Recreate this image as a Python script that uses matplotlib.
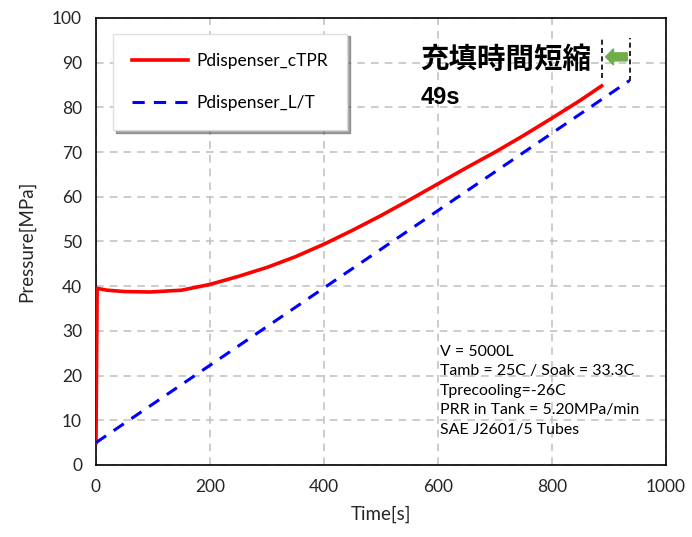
import matplotlib.pyplot as plt
from matplotlib.patches import FancyArrow

plt.rcParams['font.family'] = ['Lato', 'DejaVu Sans']

# data
t_ctpr = [0, 2, 20, 50, 95, 150, 200, 250, 300, 350, 400, 450, 500, 550, 600, 650, 703, 750, 800, 850, 887]
p_ctpr = [5, 39.5, 39.1, 38.8, 38.7, 39.1, 40.4, 42.2, 44.2, 46.6, 49.4, 52.5, 55.8, 59.3, 62.9, 66.5, 70.2, 73.7, 77.6, 81.6, 84.8]
t_lt = [0, 936]
p_lt = [5, 86]

notes = ["V = 5000L", "Tamb = 25C / Soak = 33.3C", "Tprecooling=-26C",
         "PRR in Tank = 5.20MPa/min", "SAE J2601/5 Tubes"]

fig = plt.figure(figsize=(6.92, 5.37), dpi=100)
ax = fig.add_axes([0.1387, 0.1341, 0.8237, 0.8324])

ax.plot(t_ctpr, p_ctpr, color='#ff0000', lw=2.6, label='Pdispenser_cTPR', zorder=3)
ax.plot(t_lt, p_lt, color='#0000ff', lw=2.2, ls=(0, (4, 3)), label='Pdispenser_L/T', zorder=3)

ax.set_xlim(0, 1000)
ax.set_ylim(0, 100)
ax.set_xticks(range(0, 1001, 200))
ax.set_yticks(range(0, 101, 10))
ax.grid(True, color='#bfbfbf', ls=(0, (5, 4)), lw=1.1)
ax.tick_params(labelsize=12.5, length=0, pad=10, colors='#262626')
for s in ax.spines.values():
    s.set_color('black')
    s.set_linewidth(1.2)

ax.set_xlabel('Time[s]', fontsize=13.5, color='#262626', labelpad=8)
ax.set_ylabel('Pressure[MPa]', fontsize=13.5, color='#262626', labelpad=12)

leg = ax.legend(loc='upper left', bbox_to_anchor=(0.03, 0.965), borderaxespad=0,
                fontsize=12.5, handlelength=3.2, handletextpad=0.5, labelspacing=1.5,
                borderpad=1.1, fancybox=False, shadow=True, framealpha=1,
                edgecolor='#e0e0e0')

ax.text(568, 90.6, '充填時間短縮', fontsize=20.5, fontweight='bold',
        family=['Noto Sans CJK JP', 'DejaVu Sans'], va='center', ha='left')
ax.text(569, 82.3, '49s', fontsize=17, fontweight='bold', family='Liberation Sans',
        va='center', ha='left')

# dashed marker lines and arrow
ax.plot([887, 887], [86.5, 95.5], color='black', ls=(0, (3, 2)), lw=1.2)
ax.plot([936, 936], [86, 95.5], color='black', ls=(0, (3, 2)), lw=1.2)
ax.add_patch(FancyArrow(932, 91.3, -38, 0, width=1.8, head_width=3.6, head_length=14,
                        length_includes_head=True, color='#70ad47', zorder=4))

ax.text(603, 16.6, '\n'.join(notes), fontsize=11.4, va='center', ha='left',
        linespacing=1.5, color='black')

fig.savefig('out.png', dpi=100)
